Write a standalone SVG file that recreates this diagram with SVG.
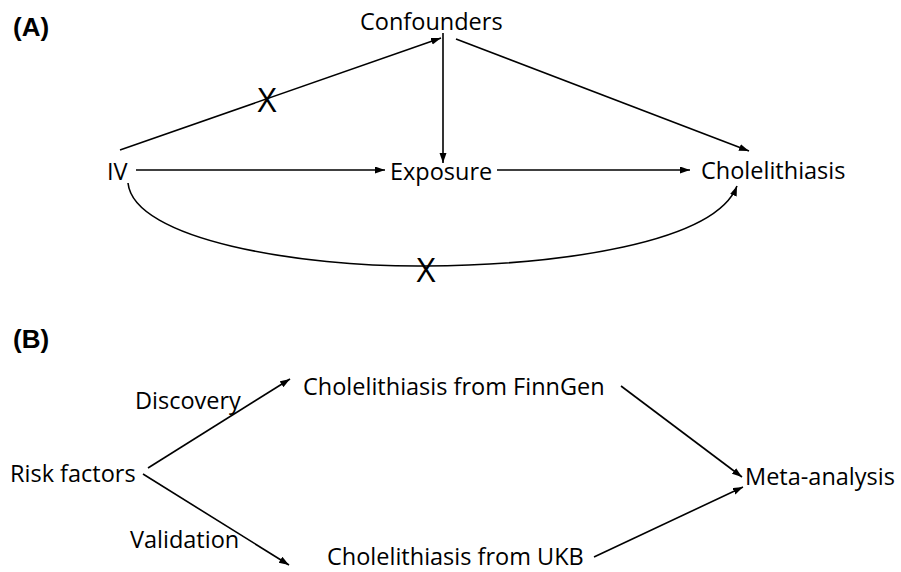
<svg xmlns="http://www.w3.org/2000/svg" width="901" height="572" viewBox="0 0 901 572">
<style>
text{font-family:"Open Sans","Noto Sans",sans-serif;font-size:23.5px;fill:#000}
.lbl{font-family:"Liberation Sans",Arial,sans-serif;font-weight:bold;font-size:26px}
.x{font-size:33px;text-anchor:middle}
.c{fill:none;stroke:#000;stroke-width:1.6}
</style>
<defs>
<marker id="ah" markerUnits="userSpaceOnUse" markerWidth="11" markerHeight="8" refX="10" refY="3.5" orient="auto">
<path d="M0,0 L10,3.5 L0,7 Z" fill="#000"/>
</marker>
</defs>
<rect width="901" height="572" fill="#fff"/>
<text class="lbl" x="13" y="36">(A)</text>
<text class="lbl" x="13" y="348">(B)</text>
<g id="connectors">
<path class="c" d="M120,150 L441,38" marker-end="url(#ah)"/>
<path class="c" d="M443,33 L443,163" marker-end="url(#ah)"/>
<path class="c" d="M456,39 L749,151" marker-end="url(#ah)"/>
<path class="c" d="M136,170 L385,170" marker-end="url(#ah)"/>
<path class="c" d="M497,170 L690,170" marker-end="url(#ah)"/>
<path class="c" d="M128,183 C134,240 300,267 425,266 C560,265 715,243 737,186" marker-end="url(#ah)"/>
<path class="c" d="M148,468 L290,379" marker-end="url(#ah)"/>
<path class="c" d="M143,474 L289,565" marker-end="url(#ah)"/>
<path class="c" d="M621,386 L742,477" marker-end="url(#ah)"/>
<path class="c" d="M594,557 L743,487" marker-end="url(#ah)"/>
<text class="x" x="267" y="112">X</text>
<text class="x" x="426" y="282">X</text>
<text x="135" y="409">Discovery</text>
<text x="130" y="548">Validation</text>
</g>
<g id="confounders"><text x="360" y="30">Confounders</text></g>
<g id="iv"><text x="107" y="180">IV</text></g>
<g id="exposure"><text x="390" y="180">Exposure</text></g>
<g id="cholelithiasis"><text x="701" y="179">Cholelithiasis</text></g>
<g id="risk-factors"><text x="10" y="482">Risk factors</text></g>
<g id="finngen"><text x="303" y="395">Cholelithiasis from FinnGen</text></g>
<g id="ukb"><text x="327" y="565">Cholelithiasis from UKB</text></g>
<g id="meta-analysis"><text x="745" y="485">Meta-analysis</text></g>
</svg>
